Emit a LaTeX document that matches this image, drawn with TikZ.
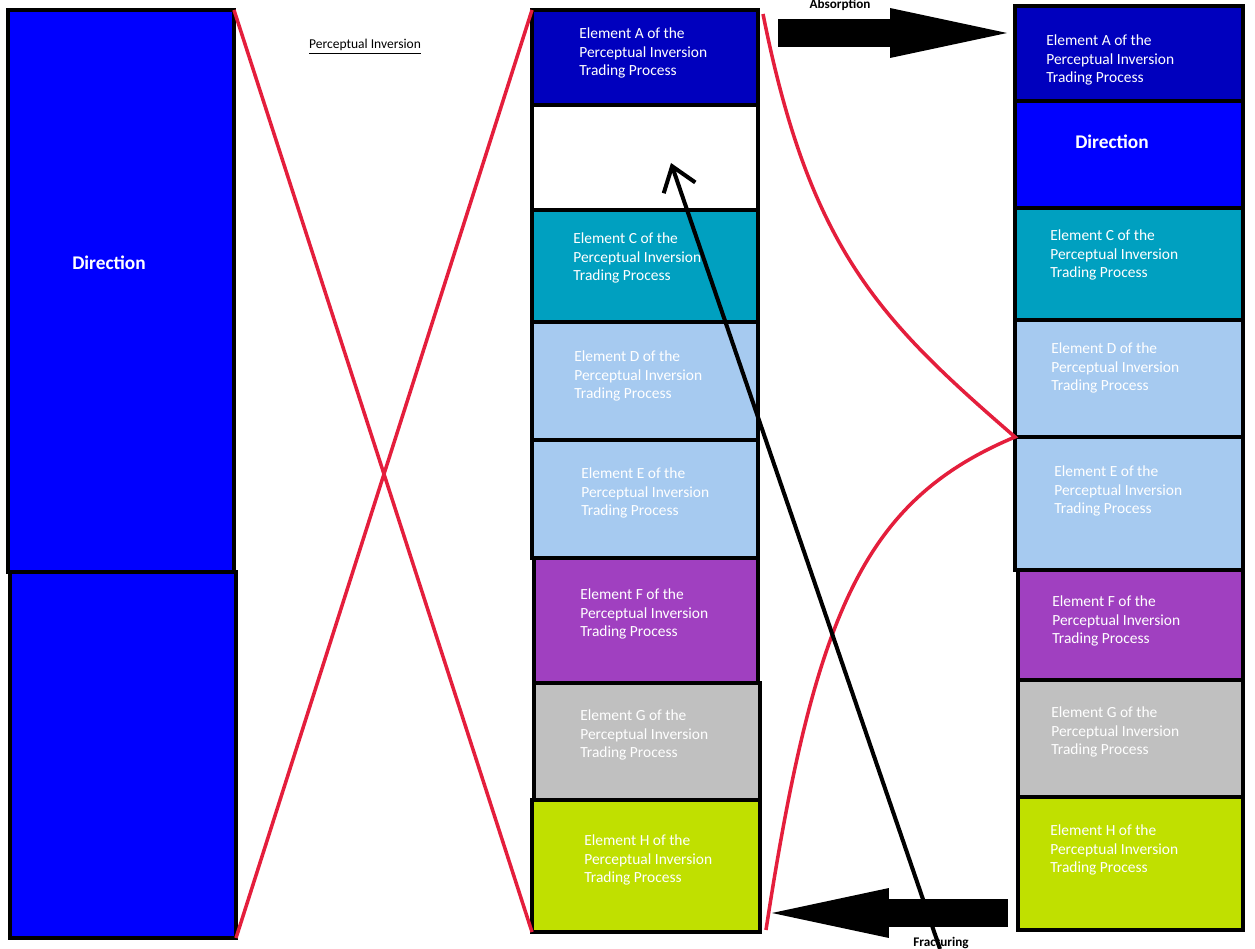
\documentclass[tikz,border=0pt]{standalone}
\usepackage{fontspec}
\setmainfont{Carlito}
\usetikzlibrary{fit,arrows.meta}
\definecolor{cA}{RGB}{0,0,190}
\definecolor{cDir}{RGB}{0,0,255}
\definecolor{cC}{RGB}{0,160,192}
\definecolor{cD}{RGB}{166,202,240}
\definecolor{cF}{RGB}{160,64,192}
\definecolor{cG}{RGB}{192,192,192}
\definecolor{cH}{RGB}{192,224,0}
\definecolor{cRed}{RGB}{228,30,60}
\tikzset{
  cell/.style={draw=black, line width=2.8pt, inner sep=0pt, outer sep=0pt},
  lbl/.style={text=white, align=left, inner sep=0pt, anchor=west, font=\fontsize{8.8}{10.4}\selectfont},
  dirlbl/.style={text=white, inner sep=0pt, font=\fontsize{11}{13}\selectfont\bfseries},
  redline/.style={draw=cRed, line width=2pt},
  bigarrow/.style={draw=black, line width=0.56cm, -{Triangle[length=2.34cm,width=1cm,line width=0pt]}},
  thinarrow/.style={draw=black, line width=2.3pt, -{Straight Barb[length=13pt,width=19pt]}},
  smallbold/.style={inner sep=0pt, font=\fontsize{7.5}{9}\selectfont\bfseries}
}
\begin{document}
\begin{tikzpicture}[x=0.02cm,y=-0.02cm]
\useasboundingbox (0,0) rectangle (1255,949);
% left column
\node[cell, fill=cDir, fit={(8,10) (234,572)}] (L1) {};
\node[cell, fill=cDir, fit={(10,572) (236,938)}] (L2) {};
\node[dirlbl] (Ldir) at (109,263) {Direction};
% title
\node[inner sep=0pt, font=\fontsize{7.7}{9}\selectfont] (title) at (365,47) {\underline{Perceptual Inversion}};
% middle column
\node[cell, fill=cA, fit={(532,10) (758,105)}] (mA) {};
\node[cell, fill=white, fit={(532,105) (758,210)}] (mB) {};
\node[cell, fill=cC, fit={(532,210) (758,322)}] (mC) {};
\node[cell, fill=cD, fit={(532,322) (758,440)}] (mD) {};
\node[cell, fill=cD, fit={(532,440) (758,558)}] (mE) {};
\node[cell, fill=cF, fit={(534,558) (758,683)}] (mF) {};
\node[cell, fill=cG, fit={(534,683) (760,800)}] (mG) {};
\node[cell, fill=cH, fit={(532,800) (760,932)}] (mH) {};
\node[lbl] (tmA) at (579,53) {Element A of the\\Perceptual Inversion\\Trading Process};
\node[lbl] (tmC) at (573,258) {Element C of the\\Perceptual Inversion\\Trading Process};
\node[lbl] (tmD) at (574,376) {Element D of the\\Perceptual Inversion\\Trading Process};
\node[lbl] (tmE) at (581,493) {Element E of the\\Perceptual Inversion\\Trading Process};
\node[lbl] (tmF) at (580,614) {Element F of the\\Perceptual Inversion\\Trading Process};
\node[lbl] (tmG) at (580,735) {Element G of the\\Perceptual Inversion\\Trading Process};
\node[lbl] (tmH) at (584,860) {Element H of the\\Perceptual Inversion\\Trading Process};
% right column
\node[cell, fill=cA, fit={(1015,6) (1243,101)}] (rA) {};
\node[cell, fill=cDir, fit={(1015,101) (1243,208)}] (rB) {};
\node[cell, fill=cC, fit={(1015,208) (1243,320)}] (rC) {};
\node[cell, fill=cD, fit={(1015,320) (1243,437)}] (rD) {};
\node[cell, fill=cD, fit={(1015,437) (1243,570)}] (rE) {};
\node[cell, fill=cF, fit={(1018,570) (1243,680)}] (rF) {};
\node[cell, fill=cG, fit={(1018,680) (1243,797)}] (rG) {};
\node[cell, fill=cH, fit={(1018,797) (1243,930)}] (rH) {};
\node[lbl] (trA) at (1046,60) {Element A of the\\Perceptual Inversion\\Trading Process};
\node[dirlbl] (rdir) at (1112,142) {Direction};
\node[lbl] (trC) at (1050,255) {Element C of the\\Perceptual Inversion\\Trading Process};
\node[lbl] (trD) at (1051,368) {Element D of the\\Perceptual Inversion\\Trading Process};
\node[lbl] (trE) at (1054,491) {Element E of the\\Perceptual Inversion\\Trading Process};
\node[lbl] (trF) at (1052,621) {Element F of the\\Perceptual Inversion\\Trading Process};
\node[lbl] (trG) at (1051,732) {Element G of the\\Perceptual Inversion\\Trading Process};
\node[lbl] (trH) at (1050,850) {Element H of the\\Perceptual Inversion\\Trading Process};
% red connectors
\draw[redline] (L1.north east) -- (mH.south west);
\draw[redline] (mA.north west) -- (L2.south east);
\draw[redline] ([shift={(5,4)}]mA.north east) .. controls (810,250) and (880,320) .. (rE.north west)
  .. controls (865,500) and (815,610) .. ([shift={(6,-2)}]mH.south east);
% big arrows
\node[smallbold] (absl) at (840,5) {Absorption};
\coordinate (abs1) at (778,33);
\coordinate (abs2) at (1007,33);
\draw[bigarrow] (abs1) -- (abs2);
\coordinate (fra1) at (1008,913);
\coordinate (fra2) at (772,913);
\draw[bigarrow] (fra1) -- (fra2);
\node[smallbold] (fral) at (941,943) {Fracturing};
% thin arrow
\coordinate (thinS) at (940,949);
\coordinate (thinE) at (671,163);
\draw[thinarrow] (thinS) -- (thinE);
\end{tikzpicture}
\end{document}
